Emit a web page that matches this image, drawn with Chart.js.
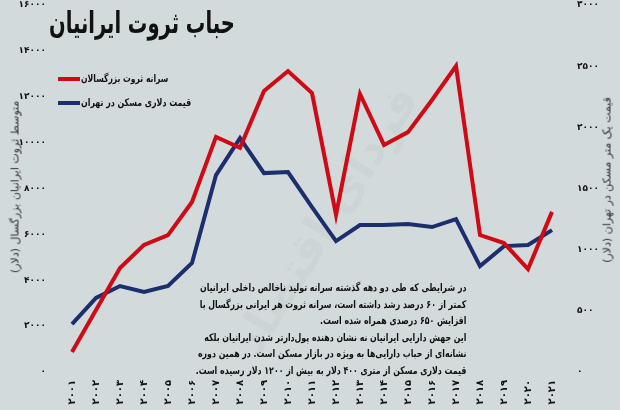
<!DOCTYPE html>
<html><head><meta charset="utf-8">
<script src="https://cdn.jsdelivr.net/npm/chart.js@4.4.1/dist/chart.umd.min.js"></script>
<style>
html,body{margin:0;padding:0;background:#d3dadb;}
#wrap{position:relative;width:620px;height:410px;overflow:hidden;background:#d3dadb;font-family:"DejaVu Sans",sans-serif;}
canvas{position:absolute;left:0;top:0;}
.t{position:absolute;direction:rtl;white-space:nowrap;color:#111;font-weight:bold;}
.rot{position:absolute;direction:rtl;white-space:nowrap;color:#333;font-size:11px;transform:translate(-50%,-50%) rotate(-90deg);}
#wm{position:absolute;left:325px;top:220px;transform:translate(-50%,-50%) rotate(-58deg);font-size:46px;font-weight:bold;color:rgba(120,130,132,0.08);direction:rtl;white-space:nowrap;}
.sw{position:absolute;height:4px;width:22px;}
</style></head><body>
<div id="wrap">
<div id="wm">فردای اقتصاد</div>
<canvas id="c" width="620" height="410"></canvas>
<div class="t" id="title" style="right:385px;top:5px;font-size:30px;transform:scaleX(0.65);transform-origin:right center;">حباب ثروت ایرانیان</div>
<div class="sw" style="left:58px;top:77px;background:#cf0a14;"></div>
<div class="t" style="left:81px;top:72px;font-size:10.5px;transform:scaleX(0.73);transform-origin:left center;">سرانه ثروت بزرگسالان</div>
<div class="sw" style="left:58px;top:101px;background:#1b2f6e;"></div>
<div class="t" style="left:81px;top:96px;font-size:10.5px;transform:scaleX(0.75);transform-origin:left center;">قیمت دلاری مسکن در تهران</div>
<div class="rot" style="left:15px;top:187px;">متوسط ثروت ایرانیان بزرگسال (دلار)</div>
<div class="rot" style="left:607px;top:180px;">قیمت یک متر مسکن در تهران (دلار)</div>
<div class="t" id="para" style="right:154px;top:279px;font-size:10.5px;line-height:16.6px;text-align:right;transform:scaleX(0.745);transform-origin:right center;">
در شرایطی که طی دو دهه گذشته سرانه تولید ناخالص داخلی ایرانیان<br>
کمتر از ۶۰ درصد رشد داشته است، سرانه ثروت هر ایرانی بزرگسال با<br>
افزایش ۶۵۰ درصدی همراه شده است.<br>
این جهش دارایی ایرانیان نه نشان دهنده پول‌دارتر شدن ایرانیان بلکه<br>
نشانه‌ای از حباب دارایی‌ها به ویژه در بازار مسکن است. در همین دوره<br>
قیمت دلاری مسکن از متری ۴۰۰ دلار به بیش از ۱۲۰۰ دلار رسیده است.
</div>
</div>
<script>
const years = [2001,2002,2003,2004,2005,2006,2007,2008,2009,2010,2011,2012,2013,2014,2015,2016,2017,2018,2019,2020,2021];
const wealthPerAdult = [870,2700,4530,5540,5970,7410,10250,9770,12250,13120,12160,6850,12120,9900,10460,11860,13340,5970,5620,4490,6980];
const tehranPricePerM2 = [392,605,703,654,703,891,1610,1912,1626,1634,1348,1070,1201,1201,1209,1185,1250,866,1029,1038,1160];
const seriesNames = ['سرانه ثروت بزرگسالان','قیمت دلاری مسکن در تهران'];
const leftTicks = [0,2000,4000,6000,8000,10000,12000,14000,16000];
const rightTicks = [0,500,1000,1500,2000,2500,3000];

const faDigits = '۰۱۲۳۴۵۶۷۸۹';
const fa = v => String(v).replace(/\d/g, d => faDigits[d]);
const tickFont = {family:'DejaVu Sans', size:9, weight:'bold'};
const noVPad = (s, w) => { s.width = w; s.paddingTop = 0; s.paddingBottom = 0; };

new Chart(document.getElementById('c'), {
  type:'line',
  data:{
    labels: years.map(fa),
    datasets:[
      {label:seriesNames[0], data:wealthPerAdult, yAxisID:'y', borderColor:'#cf0a14', borderWidth:4, pointRadius:0, tension:0, borderJoinStyle:'miter'},
      {label:seriesNames[1], data:tehranPricePerM2, yAxisID:'y1', borderColor:'#1b2f6e', borderWidth:4, pointRadius:0, tension:0, borderJoinStyle:'miter'}
    ]
  },
  options:{
    responsive:false, animation:false,
    layout:{padding:{top:5,left:0,right:0,bottom:0}},
    plugins:{legend:{display:false}, tooltip:{enabled:false}},
    scales:{
      x:{
        offset:false,
        grid:{display:false, drawTicks:false}, border:{display:false},
        ticks:{color:'#111', font:{family:'DejaVu Sans', size:10, weight:'bold'}, minRotation:90, maxRotation:90, padding:8, autoSkip:false},
        afterFit: s => { s.height = 38; s.paddingLeft = 0; s.paddingRight = 0; }
      },
      y:{
        position:'left', min:0, max:16000,
        afterBuildTicks: s => { s.ticks = leftTicks.map(v => ({value:v})); },
        grid:{display:false, drawTicks:false}, border:{display:false},
        ticks:{color:'#111', font:tickFont, padding:26, callback: v => fa(v)},
        afterFit: s => noVPad(s, 72)
      },
      y1:{
        position:'right', min:0, max:3000,
        afterBuildTicks: s => { s.ticks = rightTicks.map(v => ({value:v})); },
        grid:{display:false, drawTicks:false}, border:{display:false},
        ticks:{color:'#111', font:tickFont, padding:25, callback: v => fa(v)},
        afterFit: s => noVPad(s, 68)
      }
    }
  }
});
</script>
</body></html>
